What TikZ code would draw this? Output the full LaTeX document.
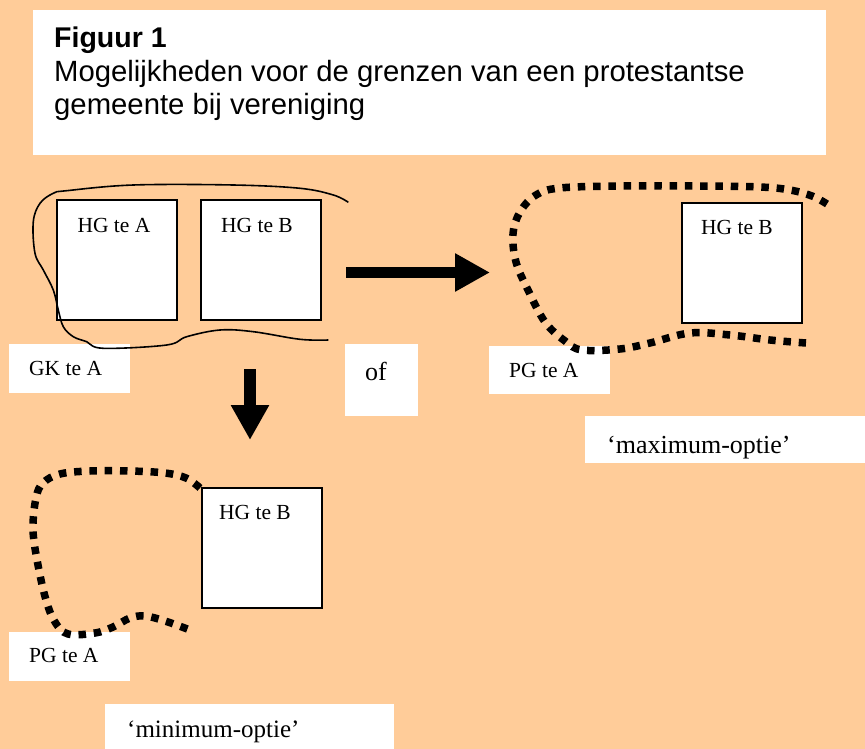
\documentclass[tikz,border=0pt]{standalone}
\usepackage{fontspec}
\setmainfont{Liberation Serif}
\newfontfamily\arialfont{Liberation Sans}
\usetikzlibrary{arrows.meta}
\definecolor{perzik}{RGB}{255,204,153}
\begin{document}
\begin{tikzpicture}[x=1pt,y=-1pt,
  wit/.style={fill=white, draw=none, inner sep=0pt},
  hgvak/.style={draw=black, line width=1.5pt, fill=white, inner sep=0pt, minimum width=120pt, minimum height=120pt},
  lbl/.style={inner sep=0pt, font=\fontsize{21.5}{24}\selectfont},
  groot/.style={inner sep=0pt, font=\fontsize{26}{30}\selectfont},
  stip/.style={line width=7.5pt, dash pattern=on 7.5pt off 7.8pt},
  pijl/.style={line width=11.5pt, -{Triangle[length=35pt,width=36pt]}}]
\fill[perzik] (0,0) rectangle (865,749);
\useasboundingbox (0,0) rectangle (865,749);
\node[wit, anchor=north west, minimum width=793pt, minimum height=145pt] (kop) at (33,10) {};
\node[anchor=base west, inner sep=0pt, font=\arialfont\bfseries\fontsize{28.5}{33}\selectfont] (titel) at (54,48) {Figuur 1};
\node[anchor=base west, inner sep=0pt, font=\arialfont\fontsize{29.3}{33}\selectfont] (regel1) at (54,82) {Mogelijkheden voor de grenzen van een protestantse};
\node[anchor=base west, inner sep=0pt, font=\arialfont\fontsize{29.3}{33}\selectfont] (regel2) at (54,115) {gemeente bij vereniging};
\foreach \nm/\x/\y/\w/\h in {gkvak/69.5/368.5/121/49, ofvak/381.5/380/73/72, pgRvak/549.5/370/121/48, maxvak/725/439.5/280/47, pgBvak/69.5/656.5/121/49, minvak/249.5/726.5/289/45}
  \node[wit, minimum width=\w pt, minimum height=\h pt] (\nm) at (\x,\y) {};
\node[hgvak] (hgA) at (117,260) {};
\node[hgvak] (hgB) at (261,260) {};
\node[hgvak] (hgBR) at (742,263) {};
\node[hgvak] (hgBO) at (262,548) {};
\node[lbl, anchor=base] (tA) at (114,232) {HG te A};
\node[lbl, anchor=base] (tB) at (257,232) {HG te B};
\node[lbl, anchor=base] (tBR) at (737,234) {HG te B};
\node[lbl, anchor=base] (tBO) at (255,519) {HG te B};
\node[lbl, anchor=base west] (gk) at (29,375) {GK te A};
\node[lbl, anchor=base west] (pgR) at (509,377) {PG te A};
\node[lbl, anchor=base west] (pgB) at (29,662) {PG te A};
\node[groot, anchor=base west] (of) at (365,380) {of};
\node[groot, anchor=base west] (maxopt) at (607,453) {‘maximum-optie’};
\node[groot, anchor=base west, font=\fontsize{25}{30}\selectfont] (minopt) at (127,737) {‘minimum-optie’};
\draw[line width=1.6pt, black] plot[smooth, tension=0.6] coordinates {(348.3,202.3) (333.3,195) (300,188.3) (233.3,185) (133.3,185) (66.7,190.7) (53.3,193.3) (40,203.3) (33.3,221.7) (35,253.3) (43.3,270) (53.3,290) (58.3,310) (63.3,326.7) (73.3,336.7) (86.7,341.7) (103.3,348.3) (166.7,345) (186.7,336.7) (220,330) (253.3,331.7) (300,339.3) (328.3,340)};
\draw[stip] plot[smooth, tension=0.6] coordinates {(827,204) (812,196) (790,190) (760,187) (700,186) (620,186) (560,188) (536,195) (520,212) (513,234) (516,262) (528,290) (545,322) (565,341) (582,350) (620,349) (650,343) (690,333) (730,335) (770,340) (806,343)};
\draw[stip] plot[smooth, tension=0.6] coordinates {(200,488) (186,478) (165,473) (130,471) (90,471) (60,474) (43,483) (36,498) (33,530) (38,565) (46,600) (55,622) (68,634) (95,633) (113,627) (130,618) (145,616) (165,621) (190,630)};
\coordinate (rs) at (346,272.5);
\coordinate (re) at (490,272.5);
\coordinate (ds) at (250,369);
\coordinate (de) at (250,440);
\draw[pijl] (rs) -- (re);
\draw[pijl] (ds) -- (de);
\end{tikzpicture}
\end{document}
